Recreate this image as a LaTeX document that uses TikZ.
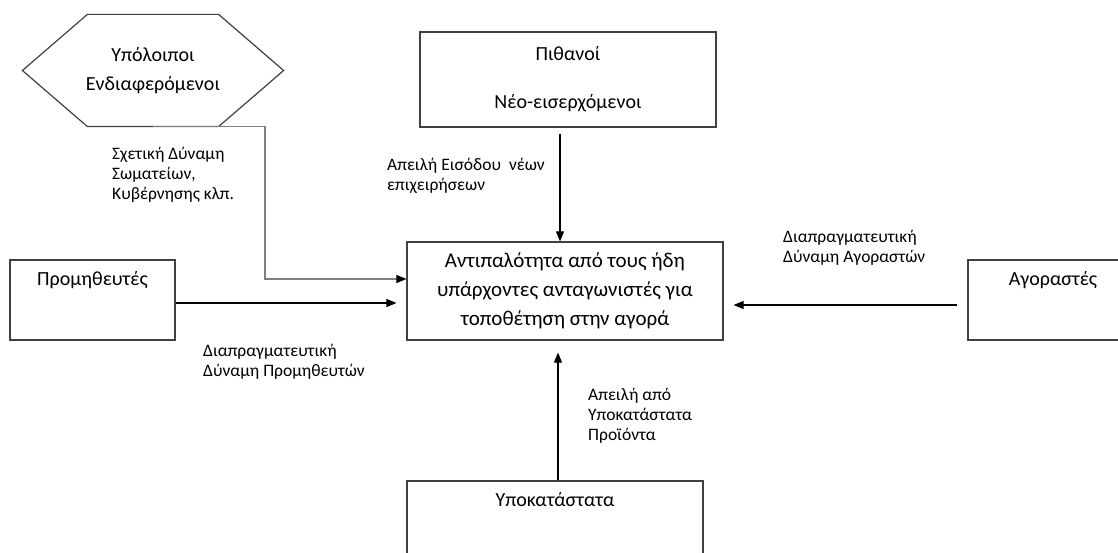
\documentclass[tikz,border=0pt]{standalone}
\usepackage{fontspec}
\setmainfont{Carlito}
\usetikzlibrary{arrows.meta}

\begin{document}
\begin{tikzpicture}[x=1pt, y=-1pt,
  box/.style={draw=black!75, line width=1.2pt, inner sep=0pt, text=black, font=\fontsize{20}{26}\selectfont},
  title/.style={label={[anchor=north, inner sep=0pt, yshift=-12pt, text=black, font=\fontsize{20}{26}\selectfont]north:#1}},
  note/.style={anchor=west, align=left, inner sep=0pt, text=black, font=\fontsize{17.5}{20}\selectfont},
  link/.style={line width=1.1pt, -{Triangle[length=10pt,width=8pt,black]}}]
  \useasboundingbox (0,0) rectangle (1118,553);
  % the five forces
  \node[box, draw=none, minimum width=260pt, minimum height=111pt, align=center] (hex) at (153,70.5) {Υπόλοιποι\\[3pt]Ενδιαφερόμενοι};
  \draw[draw=black!75, line width=1.2pt] (hex.west) -- ([xshift=65pt]hex.north west) -- ([xshift=-65pt]hex.north east)
        -- (hex.east) -- ([xshift=-65pt]hex.south east) -- ([xshift=65pt]hex.south west) -- cycle;
  \node[box, minimum width=296pt, minimum height=95pt, align=center] (pith) at (568,79.5) {Πιθανοί\\[22pt]Νέο-εισερχόμενοι};
  \node[box, minimum width=316pt, minimum height=98pt, align=center, font=\fontsize{21}{29}\selectfont] (rival) at (565,291)
        {Αντιπαλότητα από τους ήδη\\υπάρχοντες ανταγωνιστές για\\τοποθέτηση στην αγορά};
  \node[box, minimum width=165pt, minimum height=80pt, title=Προμηθευτές] (prom) at (92.5,300) {};
  \node[box, minimum width=170pt, minimum height=80pt, title=Αγοραστές] (agor) at (1053,300) {};
  \node[box, minimum width=296pt, minimum height=100pt, title=Υποκατάστατα] (subst) at (555,531) {};
  % arrows
  \coordinate (bend) at (265,279);
  \draw[link, draw=gray] (hex.south) -| (bend) -- (bend -| rival.west);
  \draw[link, shorten <=6pt] ([xshift=-8pt]pith.south) -- ([xshift=-8pt]pith.south |- rival.north);
  \draw[link, shorten >=10pt] ([yshift=-3pt]prom.east) -- ([yshift=-3pt]prom.east -| rival.west);
  \draw[link, shorten <=10pt, shorten >=10pt] ([yshift=-5pt]agor.west) -- ([yshift=-5pt]agor.west -| rival.east);
  \draw[link, shorten >=12pt] ([xshift=3pt]subst.north) -- ([xshift=3pt]subst.north |- rival.south);
  % labels
  \node[note] (othlbl) at (112,175) {Σχετική Δύναμη\\Σωματείων,\\Κυβέρνησης κλπ.};
  \node[note] (entlbl) at (387,176) {Απειλή Εισόδου\ \ νέων\\επιχειρήσεων};
  \node[note] (suplbl) at (203,362) {Διαπραγματευτική\\Δύναμη Προμηθευτών};
  \node[note] (buylbl) at (783,248) {Διαπραγματευτική\\Δύναμη Αγοραστών};
  \node[note] (sublbl) at (588,416) {Απειλή από\\Υποκατάστατα\\Προϊόντα};
\end{tikzpicture}
\end{document}
